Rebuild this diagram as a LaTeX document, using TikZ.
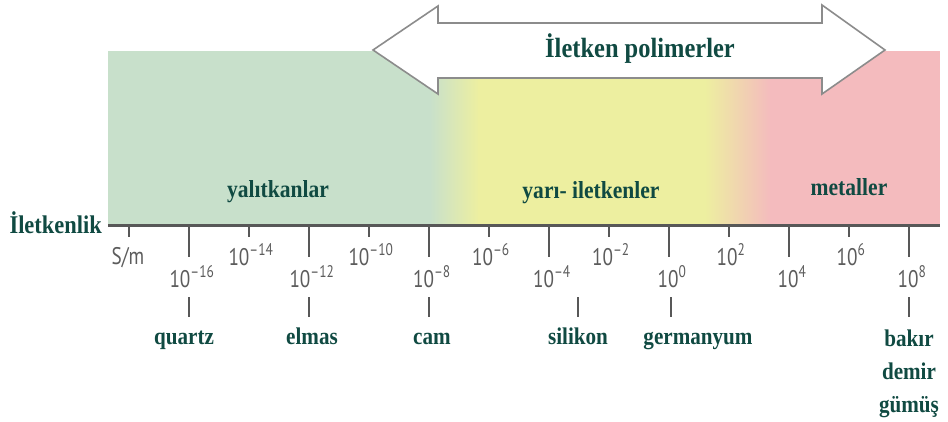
\documentclass[tikz,border=0pt]{standalone}
\usepackage{fontspec}
\newfontfamily\labelfont[FakeStretch=0.88]{Liberation Serif}
\newfontfamily\scalefont[FakeStretch=0.8]{PT Sans}
\definecolor{insul}{RGB}{200,224,203}
\definecolor{semi}{RGB}{237,239,160}
\definecolor{metal}{RGB}{244,187,190}
\definecolor{inkteal}{RGB}{16,74,66}
\definecolor{axisgray}{RGB}{88,88,88}
\definecolor{scalegray}{RGB}{92,92,92}
\tikzset{
  axisline/.style={draw=axisgray, line width=3pt},
  tickmark/.style={draw=axisgray, line width=2.6pt},
  polyarrow/.style={draw=black!45, line width=1.6pt, fill=white, line join=miter},
  region/.style={text=inkteal, font=\labelfont\bfseries\fontsize{24.5}{27}\selectfont, inner sep=0pt, anchor=base},
  material/.style={text=inkteal, font=\labelfont\bfseries\fontsize{24}{33}\selectfont, inner sep=0pt, anchor=base, align=center},
  scalelabel/.style={text=scalegray, font=\scalefont\fontsize{24}{26}\selectfont, inner sep=0pt, anchor=base}
}
\begin{document}
\begin{tikzpicture}[x=1pt,y=-1pt]
  \useasboundingbox (0,0) rectangle (948,421);

  % conductivity bands
  \fill[insul] (108,51) rectangle (431,225);
  \shade[left color=insul, right color=semi] (430,51) rectangle (479,225);
  \fill[semi] (478,51) rectangle (706,225);
  \shade[left color=semi, right color=metal] (705,51) rectangle (771,225);
  \fill[metal] (770,51) rectangle (940,225);

  % double arrow across the semiconductor range
  \draw[polyarrow] (373,50) -- (438,6) -- (438,23) -- (822,23) -- (822,5)
    -- (885,50) -- (822,94) -- (822,78) -- (438,78) -- (438,94) -- cycle;
  \node[region, font=\labelfont\bfseries\fontsize{27.8}{30}\selectfont] (poly) at (640,57) {İletken polimerler};

  \node[region] (insulators) at (278,197) {yalıtkanlar};
  \node[region] (semis) at (591,198) {yarı- iletkenler};
  \node[region] (metals) at (849,195) {metaller};

  % scale
  \coordinate (a0) at (108,225);
  \coordinate (a1) at (940,225);
  \draw[axisline] (a0) -- (a1);
  \node[region, font=\labelfont\bfseries\fontsize{25.5}{28}\selectfont, anchor=base east] (cond) at (102,233) {İletkenlik};

  \draw[tickmark] (129,225) -- (129,237);
  \node[scalelabel] (unit) at (128,264) {S/m};
  \foreach \x/\e [count=\i] in {249/–14, 369/–10, 489/–6, 609/–2, 729/2, 849/6} {
    \draw[tickmark] (\x,225) -- (\x,237);
    \node[scalelabel] (minor\i) at (\x+2,265) {10\textsuperscript{\e}};
  }
  \foreach \x/\e [count=\i] in {189/–16, 309/–12, 429/–8, 549/–4, 669/0, 789/4, 909/8} {
    \draw[tickmark] (\x,225) -- (\x,257);
    \node[scalelabel] (major\i) at (\x+3,287) {10\textsuperscript{\e}};
  }

  % materials
  \foreach \x/\lx/\txt [count=\i] in {189/184/quartz, 309/312/elmas, 429/432/cam, 578/578/silikon, 671/698/germanyum} {
    \draw[tickmark] (\x,297) -- (\x,317);
    \node[material] (mat\i) at (\lx,344) {\txt};
  }
  \draw[tickmark] (909,297) -- (909,317);
  \node[material, anchor=north] (mat6) at (909,330) {bakır\\demir\\gümüş};
\end{tikzpicture}
\end{document}
